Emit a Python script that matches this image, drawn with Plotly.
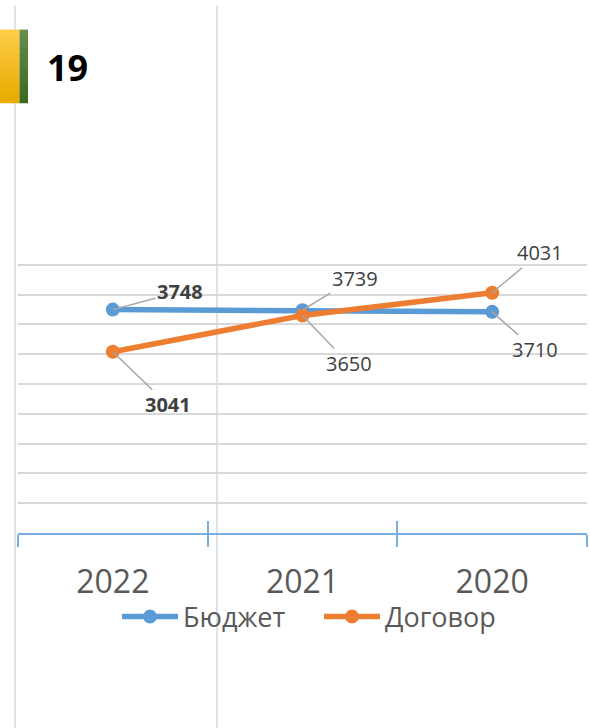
import plotly.graph_objects as go

# ---- data ----
categories = ["2022", "2021", "2020"]
budget = [3748, 3739, 3710]
contract = [3041, 3650, 4031]
series_names = ["Бюджет", "Договор"]
badge_text = "19"
y_top = 4500
y_step = 500

# ---- geometry helpers (layout only) ----
W, H = 590, 728
Y_RANGE_TOP = 4530                      # a bit above the top gridline so it gets drawn
AXIS_PX, TOPGRID_PX = 533, 265
PH = (AXIS_PX - TOPGRID_PX) * Y_RANGE_TOP / y_top
ML, MR = 18, 3
MB = H - AXIS_PX
MT = H - MB - PH
PW = W - ML - MR


def px_x(p):
    return (p - ML) / PW


def px_y(p):
    return (H - MB - p) / PH


BLUE = "#5b9bd5"
ORANGE = "#ed7d31"
AXIS = "#7aaee0"
FONT = "Open Sans, Liberation Sans, sans-serif"

fig = go.Figure()
fig.add_trace(go.Scatter(
    x=categories, y=budget, name=series_names[0], mode="lines+markers",
    line=dict(color=BLUE, width=5.5), marker=dict(size=14, color=BLUE),
    hoverinfo="skip", legend="legend"))
fig.add_trace(go.Scatter(
    x=categories, y=contract, name=series_names[1], mode="lines+markers",
    line=dict(color=ORANGE, width=5.5), marker=dict(size=14, color=ORANGE),
    hoverinfo="skip", legend="legend2"))
# invisible helper trace so the overlay axis (inside ticks) knows the categories
fig.add_trace(go.Scatter(
    x=categories, y=budget, xaxis="x2", mode="markers",
    marker=dict(opacity=0), showlegend=False, hoverinfo="skip"))

# ---- data labels with leader lines ----
label_specs = [
    (0, budget, True, 67, -18),
    (1, budget, False, 52, -32),
    (2, budget, False, 43, 38),
    (0, contract, True, 55, 53),
    (1, contract, False, 46, 48),
    (2, contract, False, 48, -40),
]
for i, series, bold, ax, ay in label_specs:
    v = series[i]
    txt = f"<b>{v}</b>" if bold else str(v)
    fig.add_annotation(
        x=i, y=v, xref="x", yref="y", text=txt,
        showarrow=True, arrowhead=0, arrowwidth=1.5, arrowcolor="#a6a6a6",
        ax=ax, ay=ay, standoff=0,
        font=dict(family=FONT, size=20, color="#404040"))

# ---- decorations ----
shapes = []
# page vertical rules
for xp in (15, 217):
    shapes.append(dict(type="line", xref="paper", yref="paper",
                       x0=px_x(xp), x1=px_x(xp), y0=px_y(6), y1=px_y(728),
                       line=dict(color="#dde3ea", width=2), layer="below"))
# gold badge with gradient (strips)
gold_top = (255, 204, 70)
gold_bot = (232, 172, 0)
green_top = (100, 140, 75)
green_bot = (62, 105, 35)
n = 12
y0p, y1p = 30, 103
for k in range(n):
    t = k / (n - 1)
    ya = y0p + (y1p - y0p) * k / n
    yb = y0p + (y1p - y0p) * (k + 1) / n + 0.6
    g = tuple(int(gold_top[j] + (gold_bot[j] - gold_top[j]) * t) for j in range(3))
    gr = tuple(int(green_top[j] + (green_bot[j] - green_top[j]) * t) for j in range(3))
    shapes.append(dict(type="rect", xref="paper", yref="paper",
                       x0=px_x(0), x1=px_x(19.5), y0=px_y(yb), y1=px_y(ya),
                       fillcolor="rgb(%d,%d,%d)" % g, line=dict(width=0)))
    shapes.append(dict(type="rect", xref="paper", yref="paper",
                       x0=px_x(19.5), x1=px_x(28), y0=px_y(yb), y1=px_y(ya),
                       fillcolor="rgb(%d,%d,%d)" % gr, line=dict(width=0)))

fig.add_annotation(x=px_x(67), y=px_y(68), xref="paper", yref="paper",
                   text=f"<b>{badge_text}</b>", showarrow=False,
                   xanchor="center", yanchor="middle",
                   font=dict(family=FONT, size=36, color="#000000"))

legend_common = dict(orientation="h", yanchor="middle", xanchor="left",
                     font=dict(family=FONT, size=27, color="#595959"),
                     bgcolor="rgba(0,0,0,0)", itemwidth=56,
                     borderwidth=0)

fig.update_layout(
    width=W, height=H,
    margin=dict(l=ML, r=MR, t=MT, b=MB, pad=0, autoexpand=False),
    paper_bgcolor="white", plot_bgcolor="white",
    shapes=shapes,
    showlegend=True,
    legend=dict(x=px_x(117), y=px_y(617), **legend_common),
    legend2=dict(x=px_x(319), y=px_y(617), **legend_common),
    xaxis=dict(type="category", categoryorder="array", categoryarray=categories,
               range=[-0.5, 2.5], showgrid=False, zeroline=False,
               showline=True, linecolor=AXIS, linewidth=2,
               ticks="outside", ticklen=12, tickwidth=2, tickcolor=AXIS,
               tickson="boundaries", ticklabelstandoff=20,
               tickfont=dict(family=FONT, size=32, color="#595959")),
    xaxis2=dict(type="category", categoryorder="array", categoryarray=categories,
                range=[-0.5, 2.5], overlaying="x", anchor="y", side="bottom",
                showgrid=False, zeroline=False, showline=False,
                ticks="inside", ticklen=12, tickwidth=2, tickcolor=AXIS,
                tickson="boundaries", showticklabels=False),
    yaxis=dict(range=[0, Y_RANGE_TOP], dtick=y_step, tick0=0, showgrid=True,
               gridcolor="#d9d9d9", gridwidth=1.5, showticklabels=False,
               zeroline=False, showline=False, ticks=""),
)

fig.write_html("out.html", config={"displayModeBar": False},
               post_script="document.body.style.margin='0';document.body.style.padding='0';")
